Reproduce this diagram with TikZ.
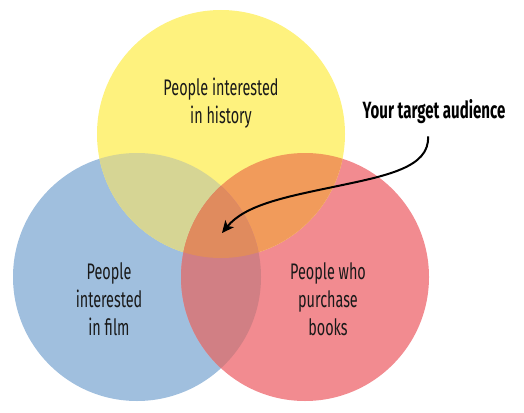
\documentclass[tikz,border=0pt]{standalone}
\usepackage{fontspec}
\setmainfont{Fira Sans}[FakeStretch=0.64]
\usetikzlibrary{arrows.meta}
\definecolor{cyel}{HTML}{FEF27E}
\definecolor{cblu}{HTML}{A0BFDE}
\definecolor{cred}{HTML}{F28B90}
\definecolor{cyb}{HTML}{D6D594}
\definecolor{cyr}{HTML}{F19B5B}
\definecolor{cbr}{HTML}{D17F84}
\definecolor{call}{HTML}{E08B5E}
\tikzset{
  lbl/.style={align=center, inner sep=0pt, font=\fontsize{22.5}{28.3}\selectfont, text=black!90},
  callout/.style={inner sep=2pt, font=\bfseries\fontsize{23.5}{26}\selectfont},
  pointer/.style={line width=2pt, -{Stealth[length=12pt,width=11pt,inset=3pt]}},
}
\begin{document}
\begin{tikzpicture}[x=1pt,y=-1pt]
\useasboundingbox (0,0) rectangle (524,412);
\coordinate (Y) at (221,134);
\coordinate (B) at (137,277);
\coordinate (R) at (305,277);
\fill[cblu] (B) circle[radius=124pt];
\fill[cred] (R) circle[radius=124pt];
\fill[cyel] (Y) circle[radius=124pt];
\begin{scope}
  \clip (Y) circle[radius=124pt];
  \fill[cyb] (B) circle[radius=124pt];
  \fill[cyr] (R) circle[radius=124pt];
\end{scope}
\begin{scope}
  \clip (B) circle[radius=124pt];
  \fill[cbr] (R) circle[radius=124pt];
\end{scope}
\begin{scope}
  \clip (Y) circle[radius=124pt];
  \clip (B) circle[radius=124pt];
  \fill[call] (R) circle[radius=124pt];
\end{scope}
\node[lbl] (hist) at (221,103) {People interested\\in history};
\node[lbl] (film) at (109,299) {People\\interested\\in film};
\node[lbl] (books) at (328,299) {People who\\purchase\\books};
\node[callout] (aud) at (434,112) {Your target audience};
\coordinate (tgt) at (222,233);
\draw[pointer] ([xshift=-6pt,yshift=-10pt]aud.south) .. controls (430,168) and (385,176) .. (333,187)
  .. controls (285,197) and (245,205) .. (tgt);
\end{tikzpicture}
\end{document}
